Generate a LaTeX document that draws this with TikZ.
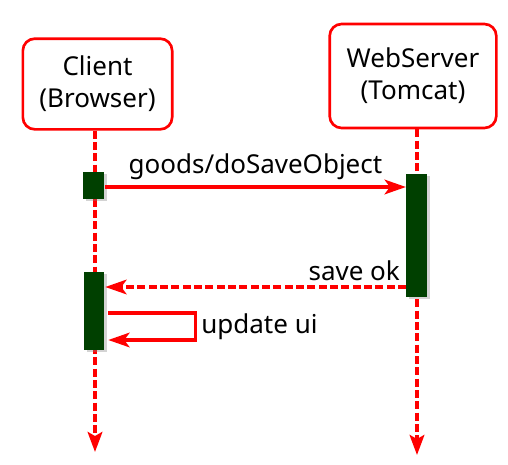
\documentclass[tikz,border=0pt]{standalone}
\usepackage{fontspec}
\setmainfont{Noto Sans}
\usetikzlibrary{calc}
\usetikzlibrary{arrows.meta,shadows}
\definecolor{barGreen}{RGB}{0,64,0}

\begin{document}
\begin{tikzpicture}[x=0.75pt,y=-0.75pt,
	font=\fontsize{19.5}{24}\selectfont,
	actor/.style={draw=red,line width=2pt,rounded corners=9pt,fill=white,align=center,inner sep=0pt},
	bar/.style={fill=barGreen,draw=none,inner sep=0pt,drop shadow={shadow xshift=2pt,shadow yshift=-1.5pt,opacity=.35}},
	life/.style={red,line width=2.6pt,dash pattern=on 6pt off 2.5pt,-{Stealth[length=15pt,width=11pt,inset=3pt]}},
	msg/.style={red,line width=2.4pt,-{Stealth[length=16pt,width=11pt,inset=4pt]}},
	back/.style={msg,dash pattern=on 6pt off 2.5pt},
	lbl/.style={text=black}]
	\useasboundingbox (0,0) rectangle (508,465);
	%	actors
	\node[actor,minimum width=112pt,minimum height=68pt] (client) at (97.5,84){Client\\(Browser)};
	\node[actor,minimum width=125pt,minimum height=78pt] (server) at (413,76){WebServer\\(Tomcat)};
	\coordinate (clientEnd) at (95,452);
	\coordinate (serverEnd) at (417,455);
	\draw[life] (client.south -| clientEnd) -- (clientEnd);
	\draw[life] (server.south -| serverEnd) -- (serverEnd);
	%	activations
	\node[bar,minimum width=15.5pt,minimum height=20pt] (call) at (93.5,185.5){};
	\node[bar,minimum width=15.5pt,minimum height=92pt] (work) at (416.5,235.5){};
	\node[bar,minimum width=15pt,minimum height=58.5pt] (ui) at (94,311){};
	%	messages
	\draw[msg] ($(call.east)+(1,1.5)$) -- node[lbl,above=1pt]{goods/doSaveObject} ($(work.west)+(0,-48.5)$);
	\draw[back] ($(work.west)+(0,51.5)$) -- node[lbl,pos=0,above left]{save ok} ($(ui.east)+(1,-24)$);
	\draw[msg] ($(ui.east)+(4,2)$) -- ++(87,0) -- ++(0,27) node[lbl,midway,right]{update ui} -- ($(ui.east)+(4,29)$);
\end{tikzpicture}
\end{document}
